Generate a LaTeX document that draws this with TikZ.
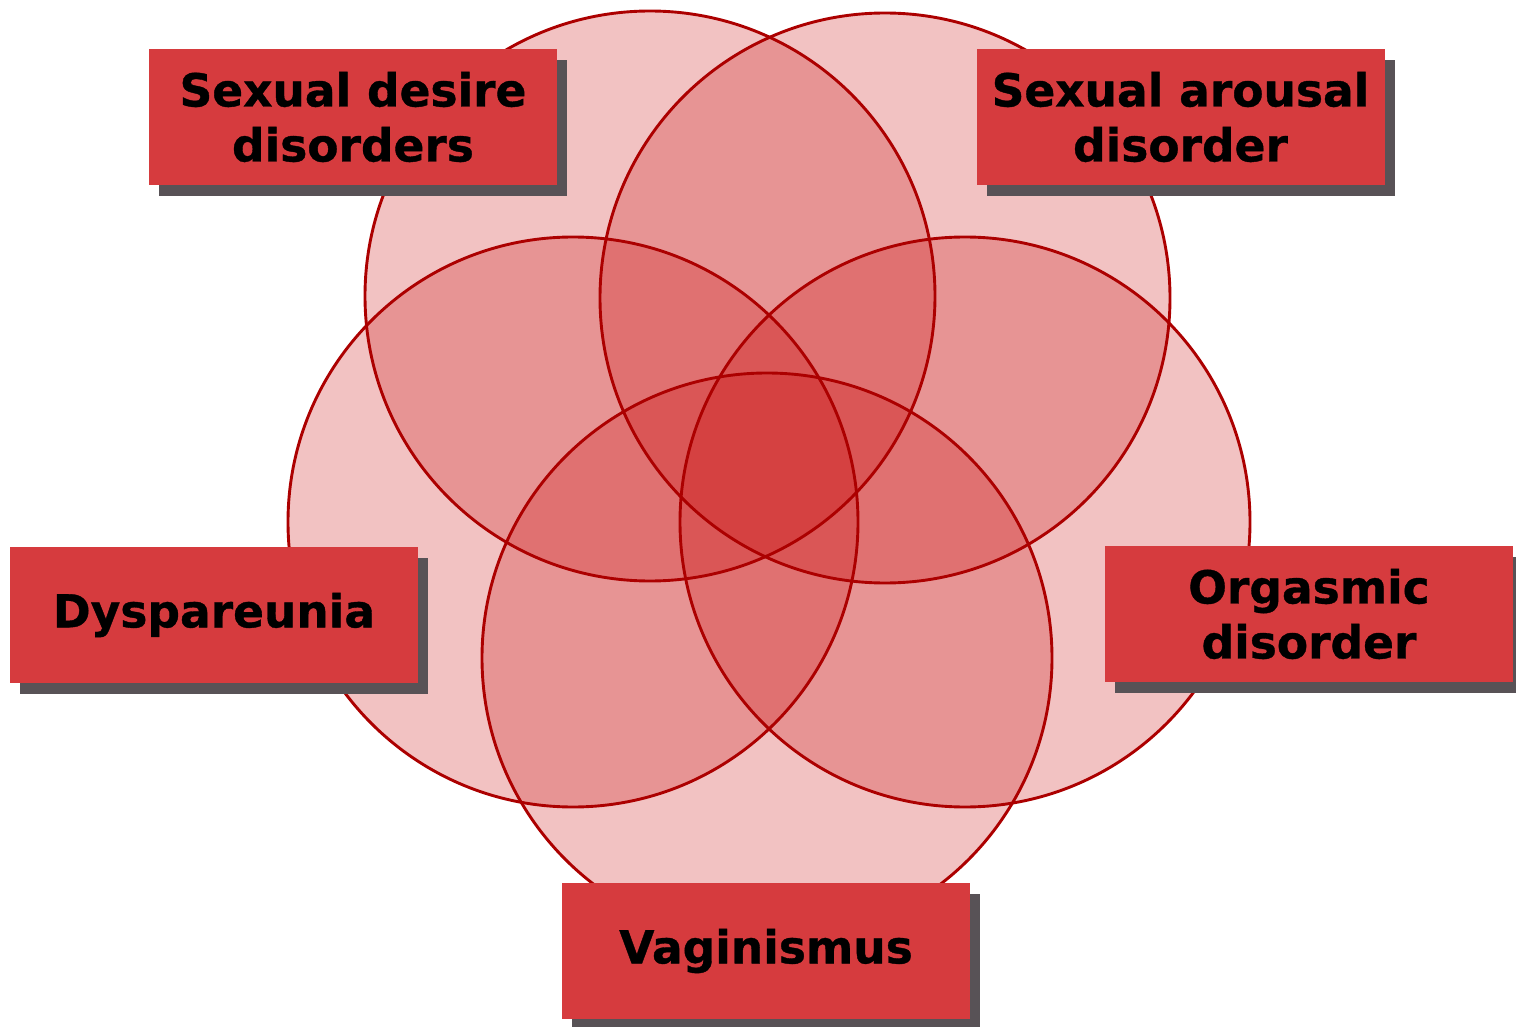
\documentclass[tikz,border=0pt]{standalone}
\usepackage{fontspec}
\setmainfont{DejaVu Sans}[BoldFeatures={FakeBold=0.8}]
\usetikzlibrary{shadows}
\definecolor{boxred}{RGB}{214,59,62}
\definecolor{ringred}{RGB}{199,0,0}
\definecolor{edgered}{RGB}{172,0,0}
\definecolor{shadowc}{RGB}{88,82,86}
\tikzset{
  labelbox/.style={rectangle, fill=boxred, minimum width=408pt, minimum height=136pt,
    inner sep=0pt, align=center, text=black,
    font=\fontsize{45.5}{55}\selectfont\bfseries,
    drop shadow={shadow xshift=10pt, shadow yshift=-11pt, fill=shadowc, opacity=1}},
  ringfill/.style={fill=ringred, fill opacity=0.24},
  ringedge/.style={draw=edgered, line width=2.9pt}
}
\begin{document}
\begin{tikzpicture}[x=1pt,y=-1pt]
\useasboundingbox (0,0) rectangle (1516,1027);
\coordinate (cA) at (650,296);
\coordinate (cB) at (885,298);
\coordinate (cC) at (573,522);
\coordinate (cD) at (965,522);
\coordinate (cE) at (767,658);
\foreach \c in {cA,cB,cC,cD,cE}{
  \fill[ringfill] (\c) circle[radius=285pt];
}
\foreach \c in {cA,cB,cC,cD,cE}{
  \draw[ringedge] (\c) circle[radius=285pt];
}
\node[labelbox] (desire) at (353,117) {Sexual desire\\disorders};
\node[labelbox] (arousal) at (1180.5,117) {Sexual arousal\\disorder};
\node[labelbox] (dysp) at (214,615) {Dyspareunia};
\node[labelbox] (orgasm) at (1309,614) {Orgasmic\\disorder};
\node[labelbox] (vagin) at (766,951) {Vaginismus};
\end{tikzpicture}
\end{document}
